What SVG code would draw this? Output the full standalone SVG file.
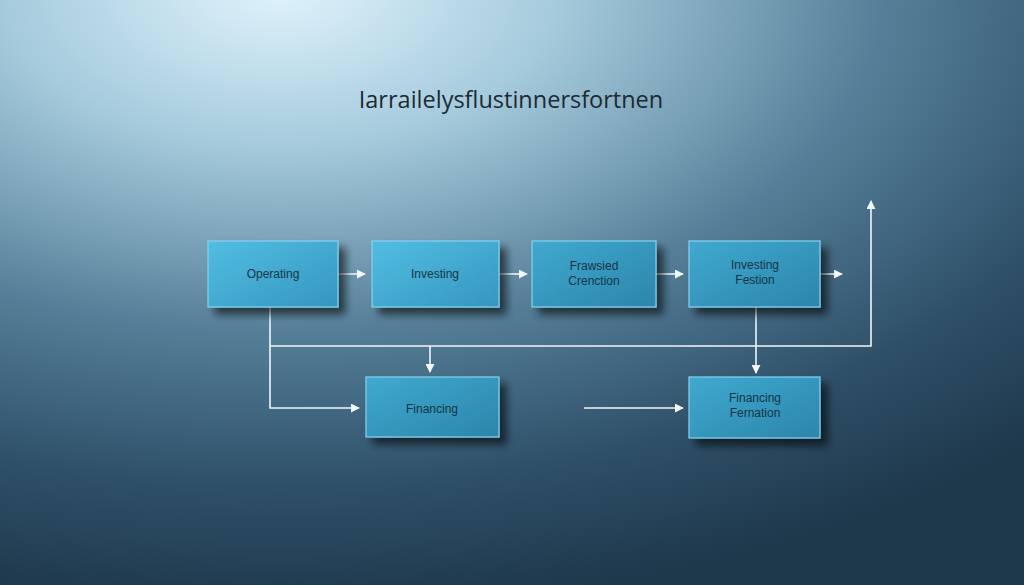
<svg xmlns="http://www.w3.org/2000/svg" width="1024" height="585" viewBox="0 0 1024 585">
<defs>
<radialGradient id="bg" cx="280" cy="-10" r="1" gradientUnits="userSpaceOnUse" gradientTransform="translate(280,-10) scale(1100,620) translate(-280,10)">
<stop offset="0" stop-color="#dff3fb"/>
<stop offset="0.25" stop-color="#a6cbdd"/>
<stop offset="0.55" stop-color="#557f98"/>
<stop offset="0.8" stop-color="#2f5069"/>
<stop offset="1" stop-color="#1e384c"/>
</radialGradient>
<linearGradient id="box" x1="0" y1="0" x2="1" y2="1">
<stop offset="0" stop-color="#52bde2"/>
<stop offset="1" stop-color="#3596bf"/>
</linearGradient>
<linearGradient id="box2" x1="0" y1="0" x2="1" y2="1">
<stop offset="0" stop-color="#40a9cf"/>
<stop offset="1" stop-color="#2c85ab"/>
</linearGradient>
<filter id="sh" x="-20%" y="-20%" width="150%" height="160%">
<feGaussianBlur in="SourceAlpha" stdDeviation="4"/>
<feOffset dx="7" dy="7" result="b"/>
<feComponentTransfer><feFuncA type="linear" slope="0.6"/></feComponentTransfer>
<feMerge><feMergeNode/><feMergeNode in="SourceGraphic"/></feMerge>
</filter>
<marker id="ah" viewBox="0 0 10 10" refX="9" refY="5" markerWidth="9" markerHeight="9" markerUnits="userSpaceOnUse" orient="auto">
<path d="M0,0 L10,5 L0,10 z" fill="#f2f8fb"/>
</marker>
</defs>
<style>
.node rect{stroke:#86d3ee;stroke-width:1.2;filter:url(#sh)}
.lbl{font-family:"Liberation Sans",Arial,sans-serif;font-size:12px;fill:#163447;text-anchor:middle}
.conn{fill:none;stroke:#eef6fa;stroke-width:1.6}
.title{font-family:"Open Sans","Liberation Sans",sans-serif;font-size:23.5px;fill:#1c2a34;text-anchor:middle}
</style>
<rect width="1024" height="585" fill="url(#bg)"/>
<text class="title" x="511" y="108">Iarrailelysflustinnersfortnen</text>
<g id="connectors">
<path class="conn" marker-end="url(#ah)" d="M338,274 H365"/>
<path class="conn" marker-end="url(#ah)" d="M499,274 H527"/>
<path class="conn" marker-end="url(#ah)" d="M656,274 H683"/>
<path class="conn" marker-end="url(#ah)" d="M820,274 H842"/>
<path class="conn" marker-end="url(#ah)" d="M270,307 V408 H359"/>
<path class="conn" marker-end="url(#ah)" d="M270,346 H871 V201"/>
<path class="conn" marker-end="url(#ah)" d="M430,346 V372"/>
<path class="conn" marker-end="url(#ah)" d="M756,307 V373"/>
<path class="conn" marker-end="url(#ah)" d="M584,408 H683"/>
</g>
<g id="n-operating" class="node"><rect x="208" y="241" width="130" height="66" fill="url(#box)"/><text class="lbl" x="273" y="278">Operating</text></g>
<g id="n-investing" class="node"><rect x="372" y="241" width="127" height="66" fill="url(#box)"/><text class="lbl" x="435" y="278">Investing</text></g>
<g id="n-frawsied" class="node"><rect x="532" y="241" width="124" height="66" fill="url(#box2)"/><text class="lbl" x="594" y="270">Frawsied</text><text class="lbl" x="594" y="285">Crenction</text></g>
<g id="n-investing-festion" class="node"><rect x="689" y="241" width="131" height="66" fill="url(#box2)"/><text class="lbl" x="755" y="269">Investing</text><text class="lbl" x="755" y="284">Festion</text></g>
<g id="n-financing" class="node"><rect x="366" y="377" width="133" height="60" fill="url(#box2)"/><text class="lbl" x="432" y="413">Financing</text></g>
<g id="n-financing-fernation" class="node"><rect x="689" y="377" width="131" height="61" fill="url(#box2)"/><text class="lbl" x="755" y="402">Financing</text><text class="lbl" x="755" y="417">Fernation</text></g>
</svg>
